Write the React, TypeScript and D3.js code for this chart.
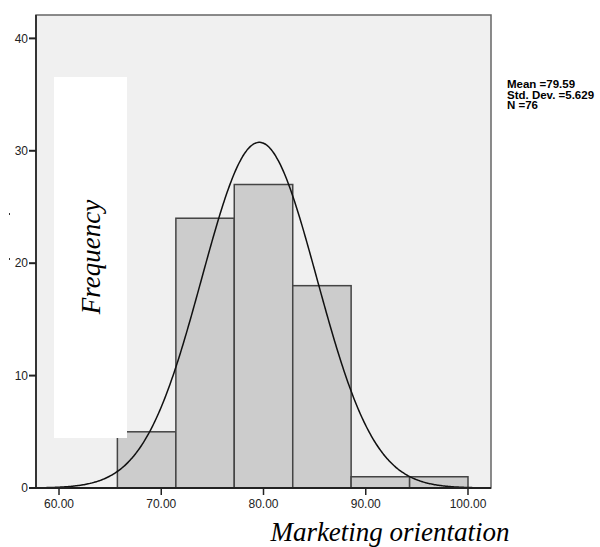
import React from 'react';
import * as d3 from 'd3';

const binEdges = [60, 65.71, 71.43, 77.14, 82.86, 88.57, 94.29, 100];
const counts = [0, 5, 24, 27, 18, 1, 1];
const xTicks = [60, 70, 80, 90, 100];
const yTicks = [0, 10, 20, 30, 40];
const stats = ['Mean =79.59', 'Std. Dev. =5.629', 'N =76'];
const mean = 79.59;
const sd = 5.629;
const n = 76;

const W = 600;
const H = 547;
const m = { l: 36, r: 491, t: 15, b: 488 };

const App = () => {
	const x = d3.scaleLinear().domain([57.75, 102.25]).range([m.l, m.r]);
	const y = d3.scaleLinear().domain([0, 42.08]).range([m.b, m.t]);

	const binW = binEdges[1] - binEdges[0];
	const curvePts = d3.range(57.75, 102.25, 0.1).map((v) => {
		const z = (v - mean) / sd;
		return [v, (n * binW * Math.exp(-0.5 * z * z)) / (sd * Math.sqrt(2 * Math.PI))];
	});
	const line = d3.line().x((d) => x(d[0])).y((d) => y(d[1])).curve(d3.curveBasis);

	return (
		<div style={{ position: 'absolute', left: 0, top: 0 }}>
			<svg width={W} height={H} style={{ display: 'block' }}>
				<rect x={0} y={0} width={W} height={H} fill="#fff" />
				<rect x={m.l} y={m.t} width={m.r - m.l} height={m.b - m.t} fill="#f0f0f0" stroke="#666" strokeWidth={1.5} />
				{counts.map((c, i) =>
					c > 0 ? (
						<rect
							key={i}
							x={x(binEdges[i])}
							y={y(c)}
							width={x(binEdges[i + 1]) - x(binEdges[i])}
							height={y(0) - y(c)}
							fill="#cccccc"
							stroke="#444"
							strokeWidth={1.5}
						/>
					) : null
				)}
				<path d={line(curvePts)} fill="none" stroke="#111" strokeWidth={1.5} />
				{/* axes */}
				<line x1={m.l} x2={m.l} y1={m.t} y2={m.b} stroke="#333" strokeWidth={2} />
				<line x1={m.l - 7} x2={m.r} y1={m.b} y2={m.b} stroke="#222" strokeWidth={2} />
				{yTicks.map((t) => (
					<g key={t}>
						<line x1={m.l - 7} x2={m.l} y1={y(t)} y2={y(t)} stroke="#222" strokeWidth={2} />
						<text x={m.l - 8} y={y(t)} dy="0.35em" textAnchor="end" fontFamily="Liberation Sans, Arial" fontSize={12} fill="#222">
							{t}
						</text>
					</g>
				))}
				{xTicks.map((t) => (
					<g key={t}>
						<line x1={x(t)} x2={x(t)} y1={m.b} y2={m.b + 7} stroke="#222" strokeWidth={1.5} />
						<text x={x(t)} y={m.b + 16} dy="0.35em" textAnchor="middle" fontFamily="Liberation Sans, Arial" fontSize={12} fill="#222">
							{t.toFixed(2)}
						</text>
					</g>
				))}
				<rect x={9} y={213} width={1} height={2} fill="#333" />
				<rect x={9} y={258} width={1} height={2} fill="#333" />
				{/* label cover */}
				<rect x={54} y={77} width={73} height={361} fill="#fff" />
				<text
					transform="translate(91,257) rotate(-90)"
					dy="0.35em"
					textAnchor="middle"
					fontFamily="Liberation Serif, Times New Roman"
					fontStyle="italic"
					fontSize={27}
					fill="#000"
				>
					Frequency
				</text>
				<text x={390} y={541} textAnchor="middle" fontFamily="Liberation Serif, Times New Roman" fontStyle="italic" fontSize={27} fill="#000">
					Marketing orientation
				</text>
				{stats.map((s, i) => (
					<text key={s} x={507} y={88 + i * 10.5} fontFamily="Liberation Sans, Arial" fontWeight="bold" fontSize={11.5} fill="#000">
						{s}
					</text>
				))}
			</svg>
		</div>
	);
};

export default App;
